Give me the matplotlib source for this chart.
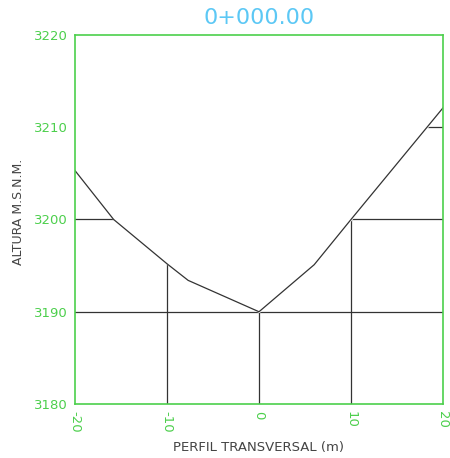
import numpy as np
import matplotlib.pyplot as plt

# perfil del terreno (distancia, cota)
dist = [-20, -15.8, -10, -7.7, 0, 6, 10, 20]
cota = [3205.3, 3200.0, 3195.2, 3193.4, 3190.0, 3195.1, 3200.0, 3212.1]

xticks = [-20, -10, 0, 10, 20]
yticks = [3180, 3190, 3200, 3210, 3220]
titulo = "0+000.00"

verde = '#4ccf4c'
gris = '#333333'

fig = plt.figure(figsize=(4.5, 4.58), dpi=100)
ax = fig.add_axes([0.1667, 0.1179, 0.8177, 0.8057])

# cuadricula solo por debajo del terreno
for yy in yticks[1:-1]:
    ax.axhline(yy, color=gris, lw=0.9, zorder=1)
for xx in xticks[1:-1]:
    ax.axvline(xx, color=gris, lw=0.9, zorder=1)
ax.fill_between(dist, cota, 3225, color='white', zorder=2)
ax.plot(dist, cota, color=gris, lw=0.9, zorder=3)

ax.set_xlim(-20, 20)
ax.set_ylim(3180, 3220)
ax.set_xticks(xticks)
ax.set_yticks(yticks)
ax.set_xticklabels([str(t) for t in xticks], rotation=-90)
ax.tick_params(length=0, colors=verde, labelsize=9.5, pad=5)
for s in ax.spines.values():
    s.set_color(verde)
    s.set_linewidth(1.2)
    s.set_zorder(5)

ax.set_title(titulo, color='#5cc8f5', fontsize=16, pad=8)
ax.set_xlabel("PERFIL TRANSVERSAL (m)", color='#444444', fontsize=9.5, labelpad=6)
ax.set_ylabel("ALTURA M.S.N.M.", color='#444444', fontsize=9)
ax.yaxis.set_label_coords(-0.136, 0.52)

fig.savefig('out.png', dpi=100)
